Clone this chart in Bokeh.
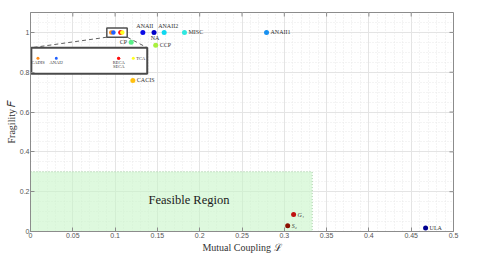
from bokeh.plotting import figure
from bokeh.models import Range1d, FixedTicker, Label, ColumnDataSource
from bokeh.embed import file_html
from bokeh.resources import INLINE

# ---------------- data ----------------
names = ["ANAII", "NA", "ANAII2", "MISC", "ANAII1", "CCP", "CP", "CACIS", "G₁", "S₂", "ULA"]
coupling = [0.1328, 0.146, 0.158, 0.182, 0.279, 0.148, 0.119, 0.121, 0.311, 0.304, 0.467]
fragility = [1.0, 1.0, 1.0, 1.0, 1.0, 0.935, 0.951, 0.759, 0.085, 0.029, 0.017]
colors = ["#0a0ae6", "#0000c8", "#10d8f0", "#30e8e0", "#1890f0", "#a8f040", "#58f088",
          "#ffc010", "#c01010", "#8a1000", "#000090"]

zoom_names = ["CADIS", "ANAI2", "RECA", "SECA", "TCA"]
zoom_coupling = [0.0955, 0.0980, 0.1065, 0.1065, 0.1085]
zoom_fragility = [1.0, 1.0, 1.0, 1.0, 1.0]
zoom_colors = ["#ff8c1a", "#2060ff", "#ff1010", "#ff1010", "#ffff20"]

feasible_L = 0.333
feasible_F = 0.3

x_ticks = [0, 0.05, 0.1, 0.15, 0.2, 0.25, 0.3, 0.35, 0.4, 0.45, 0.5]
x_tick_labels = ["0", "0.05", "0.1", "0.15", "0.2", "0.25", "0.3", "0.35", "0.4", "0.45", "0.5"]
y_ticks = [0, 0.2, 0.4, 0.6, 0.8, 1.0]
y_tick_labels = ["0", "0.2", "0.4", "0.6", "0.8", "1"]

x_title = "Mutual Coupling ℒ"
y_title = "Fragility 𝐹"

# ---------------- layout constants ----------------
label_layout = {  # align, baseline, dx, dy
    "ANAII": ("center", "bottom", 2, 3),
    "NA": ("center", "top", 1, -3),
    "ANAII2": ("center", "bottom", 4, 3),
    "MISC": ("left", "middle", 4, 0),
    "ANAII1": ("left", "middle", 4, 0),
    "CCP": ("left", "middle", 4, 0),
    "CP": ("right", "middle", -4, 0),
    "CACIS": ("left", "middle", 4, 0),
    "G₁": ("left", "middle", 4, 0),
    "S₂": ("left", "middle", 4, 0),
    "ULA": ("left", "middle", 4, 0),
}
zoom_label_layout = {
    "CADIS": ("center", "top", 0, -2),
    "ANAI2": ("center", "top", 0, -2),
    "RECA": ("center", "top", 0, -2),
    "SECA": ("center", "top", 0, -6),
    "TCA": ("left", "middle", 3, 0),
}
zoom_box = (0.0902, 0.1143, 0.976, 1.0216)      # small rectangle in main axes
inset_view = (0.0946, 0.1104, 0.97, 1.02)        # data window shown in inset
inset_box = (0.001, 0.138, 0.7925, 0.923)        # inset placement in main axes

SERIF = "Liberation Serif"
SANS = "Liberation Sans"
FW, FH = 423, 219
X0, X1, Y0, Y1 = 0, 0.5, 0, 1.1
TICK = 4

p = figure(frame_width=FW, frame_height=FH, x_range=Range1d(X0, X1), y_range=Range1d(Y0, Y1),
           output_backend="svg", toolbar_location=None,
           min_border_left=30, min_border_right=18, min_border_top=12, min_border_bottom=24)
p.background_fill_color = "white"
p.border_fill_color = "white"
p.outline_line_color = "#8c8c8c"

x_minor = [i / 100 for i in range(51)]
y_minor = [i / 20 for i in range(23)]

for ax in p.xaxis:
    ax.ticker = FixedTicker(ticks=x_ticks, minor_ticks=x_minor)
    ax.major_label_overrides = dict(zip(x_ticks, x_tick_labels))
for ax in p.yaxis:
    ax.ticker = FixedTicker(ticks=y_ticks, minor_ticks=y_minor)
    ax.major_label_overrides = dict(zip(y_ticks, y_tick_labels))

for ax in list(p.xaxis) + list(p.yaxis):
    ax.major_tick_in = TICK
    ax.major_tick_out = 0
    ax.minor_tick_in = 0
    ax.minor_tick_out = 0
    ax.minor_tick_line_color = None
    ax.axis_line_color = "#8c8c8c"
    ax.major_tick_line_color = "#8c8c8c"
    ax.major_label_text_font = SANS
    ax.major_label_text_font_size = "7px"
    ax.major_label_text_color = "#555555"
    ax.major_label_standoff = 1
    ax.axis_label_text_font = SERIF
    ax.axis_label_text_font_size = "10px"
    ax.axis_label_text_font_style = "normal"
    ax.axis_label_text_color = "#333333"

p.xaxis.axis_label = x_title
p.yaxis.axis_label = y_title
p.xaxis.axis_label_standoff = 1
p.yaxis.axis_label_standoff = 0

# inward ticks on the top and right edges of the box
dx = (X1 - X0) / FW * TICK
dy = (Y1 - Y0) / FH * TICK
p.segment(x0=x_ticks, y0=[Y1] * len(x_ticks), x1=x_ticks, y1=[Y1 - dy] * len(x_ticks),
          line_color="#8c8c8c", line_width=1)
p.segment(x0=[X1] * len(y_ticks), y0=y_ticks, x1=[X1 - dx] * len(y_ticks), y1=y_ticks,
          line_color="#8c8c8c", line_width=1)

p.xgrid.grid_line_color = "#e4e4e4"
p.ygrid.grid_line_color = "#e4e4e4"
p.xgrid.minor_grid_line_color = "#e8e8e8"
p.ygrid.minor_grid_line_color = "#e8e8e8"
p.xgrid.minor_grid_line_dash = "1 2"
p.ygrid.minor_grid_line_dash = "1 2"

# feasible region
p.quad(left=0, right=feasible_L, bottom=0, top=feasible_F, fill_color="#c8f5c8",
       fill_alpha=0.6, line_color="#a8d0a8", line_dash="1 2", line_width=1)
p.add_layout(Label(x=0.1395, y=0.156, text="Feasible Region", text_font=SERIF,
                   text_font_size="12.5px", text_color="#1a1a1a", text_baseline="middle"))

# dashed connectors
zx0, zx1, zy0, zy1 = zoom_box
bx0, bx1, by0, by1 = inset_box
p.segment(x0=[zx0, zx1], y0=[zy0, zy0], x1=[bx0, bx1], y1=[by1, by1],
          line_color="#606060", line_dash="4 3", line_width=1)

# small zoom rectangle
p.quad(left=zx0, right=zx1, bottom=zy0, top=zy1, fill_color="white",
       line_color="#505050", line_width=1.5)

# main points
src = ColumnDataSource(dict(x=coupling, y=fragility, c=colors))
p.scatter("x", "y", source=src, size=5, fill_color="c", line_color=None)
p.scatter(zoom_coupling, zoom_fragility, size=4.5, fill_color=zoom_colors, line_color=None)

for n, xv, yv in zip(names, coupling, fragility):
    al, bl, ox, oy = label_layout[n]
    p.add_layout(Label(x=xv, y=yv, text=n, x_offset=ox, y_offset=oy, text_align=al,
                       text_baseline=bl, text_font=SERIF, text_font_size="6px",
                       text_color="#333333",
                       text_font_style="italic" if n in ("G₁", "S₂") else "normal"))

# inset
p.quad(left=bx0, right=bx1, bottom=by0, top=by1, fill_color="white",
       line_color="#4a4a4a", line_width=2)
vx0, vx1, vy0, vy1 = inset_view
ix = [bx0 + (v - vx0) / (vx1 - vx0) * (bx1 - bx0) for v in zoom_coupling]
iy = [by0 + (v - vy0) / (vy1 - vy0) * (by1 - by0) for v in zoom_fragility]
p.scatter(ix, iy, size=3, fill_color=zoom_colors, line_color=None)
for n, xv, yv in zip(zoom_names, ix, iy):
    al, bl, ox, oy = zoom_label_layout[n]
    p.add_layout(Label(x=xv, y=yv, text=n, x_offset=ox, y_offset=oy, text_align=al,
                       text_baseline=bl, text_font=SERIF, text_font_size="4.5px",
                       text_color="#333333"))

open("out.html", "w").write(file_html(p, INLINE))
